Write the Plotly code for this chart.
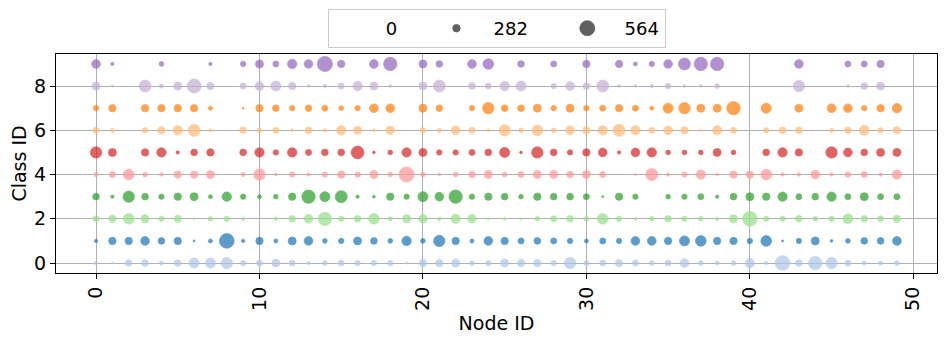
import plotly.graph_objects as go

# node ids on the x axis, class ids on the y axis
NODE_IDS = list(range(50))
CLASS_IDS = list(range(10))

# samples per (class, node); 0 means no marker
CLASS_0 = [125, 75, 250, 250, 150, 250, 375, 375, 425, 200, 225, 300, 225, 125, 175, 225, 200, 200, 200, 75,
           275, 275, 300, 175, 200, 300, 275, 275, 200, 425, 200, 225, 275, 225, 175, 225, 325, 175, 150, 175,
           350, 125, 550, 250, 500, 425, 225, 150, 150, 175]
CLASS_1 = [125, 275, 275, 325, 250, 275, 75, 150, 550, 125, 275, 150, 300, 325, 175, 200, 300, 250, 175, 350,
           175, 425, 275, 150, 325, 275, 225, 250, 225, 200, 150, 225, 200, 325, 325, 275, 375, 400, 275, 275,
           200, 400, 75, 200, 300, 100, 175, 250, 250, 325]
CLASS_2 = [225, 275, 400, 300, 200, 275, 75, 175, 200, 125, 0, 125, 250, 325, 500, 200, 250, 400, 150, 300,
           325, 125, 350, 325, 75, 100, 75, 175, 225, 250, 175, 400, 200, 100, 175, 250, 200, 175, 125, 300,
           550, 200, 200, 250, 175, 200, 375, 250, 225, 275]
CLASS_3 = [250, 125, 425, 250, 200, 275, 300, 150, 350, 200, 150, 175, 275, 500, 375, 450, 125, 100, 275, 200,
           375, 325, 500, 200, 275, 250, 175, 275, 250, 250, 225, 75, 275, 200, 0, 175, 200, 225, 125, 250,
           300, 275, 350, 225, 250, 350, 225, 300, 225, 225]
CLASS_4 = [150, 225, 400, 175, 125, 275, 275, 300, 0, 150, 425, 100, 200, 125, 200, 275, 200, 300, 175, 564,
           175, 100, 175, 250, 300, 175, 225, 300, 300, 250, 300, 225, 0, 75, 450, 125, 200, 350, 100, 275,
           275, 400, 125, 125, 325, 125, 200, 225, 125, 350]
CLASS_5 = [425, 300, 0, 275, 350, 125, 250, 275, 0, 250, 350, 200, 350, 225, 250, 250, 475, 100, 175, 350,
           300, 200, 200, 225, 250, 375, 100, 425, 250, 200, 275, 325, 125, 325, 350, 175, 175, 175, 300, 175,
           0, 250, 350, 275, 0, 425, 325, 250, 300, 300]
CLASS_6 = [225, 150, 0, 200, 275, 350, 450, 100, 0, 250, 175, 225, 100, 250, 125, 350, 300, 100, 325, 0,
           200, 150, 325, 225, 100, 425, 175, 400, 175, 325, 275, 350, 450, 350, 225, 325, 275, 75, 350, 225,
           0, 200, 250, 250, 0, 150, 250, 375, 200, 275]
CLASS_7 = [200, 275, 0, 275, 275, 275, 275, 150, 0, 75, 275, 250, 200, 250, 225, 175, 200, 325, 325, 0,
           300, 250, 0, 200, 425, 250, 250, 300, 200, 300, 200, 225, 275, 225, 150, 375, 425, 300, 300, 500,
           0, 375, 0, 300, 0, 325, 325, 200, 275, 350]
CLASS_8 = [300, 75, 0, 450, 150, 300, 525, 275, 0, 225, 325, 375, 275, 100, 125, 225, 350, 300, 100, 0,
           300, 450, 0, 250, 225, 350, 375, 0, 200, 325, 250, 450, 100, 100, 125, 200, 100, 100, 175, 0,
           0, 0, 0, 425, 0, 0, 100, 250, 300, 0]
CLASS_9 = [325, 125, 0, 0, 175, 0, 0, 125, 0, 200, 300, 225, 350, 325, 564, 275, 0, 325, 500, 0,
           300, 250, 0, 325, 400, 0, 250, 0, 225, 0, 275, 0, 275, 150, 200, 325, 450, 500, 500, 0,
           0, 0, 0, 325, 0, 0, 225, 225, 275, 0]

# size legend entries
LEGEND_VALUES = [0, 282, 564]

X_TICKS = [0, 10, 20, 30, 40, 50]
Y_TICKS = [0, 2, 4, 6, 8]

COUNTS = [CLASS_0, CLASS_1, CLASS_2, CLASS_3, CLASS_4, CLASS_5, CLASS_6, CLASS_7, CLASS_8, CLASS_9]
COLORS = ["#aec7e8", "#1f77b4", "#98df8a", "#2ca02c", "#ff9896",
          "#d62728", "#ffbb78", "#ff7f0e", "#c5b0d5", "#9467bd"]

MAX_PX = 15.0
SIZEREF = max(LEGEND_VALUES) / MAX_PX
FONT = "DejaVu Sans"
NB = "\u00a0"
# the page body keeps its default 8px margin, so the figure is made smaller to fit the window
PAGE_PAD = 8

fig = go.Figure()

for cid, counts, color in zip(CLASS_IDS, COUNTS, COLORS):
    xs = [n for n, c in zip(NODE_IDS, counts) if c > 0]
    ss = [c for c in counts if c > 0]
    fig.add_trace(go.Scatter(
        x=xs, y=[cid] * len(xs), mode="markers",
        marker=dict(size=ss, sizemode="diameter", sizeref=SIZEREF, color=color,
                    opacity=0.72, line=dict(color=color, width=0.8)),
        showlegend=False,
        hovertemplate="Node %{x}<br>Class %{y}<br>Count %{marker.size}<extra></extra>",
    ))

trail = [6, 6, 0]
for v, t in zip(LEGEND_VALUES, trail):
    # pad labels so the entries spread out like the original legend
    label = NB * 3 + str(v) + NB * t
    col = "#444444" if v else "rgba(0,0,0,0)"
    fig.add_trace(go.Scatter(
        x=[None], y=[None], mode="markers", name=label,
        marker=dict(size=max(v / SIZEREF, 1), color=col, opacity=0.85,
                    line=dict(color=col, width=0.8 if v else 0)),
    ))

W, H = 947 - 2 * PAGE_PAD, 342 - 2 * PAGE_PAD
fig.update_layout(
    width=W, height=H,
    margin=dict(l=48, r=2, t=46, b=61),
    paper_bgcolor="white", plot_bgcolor="white",
    font=dict(family=FONT, size=19, color="black"),
    showlegend=True,
    legend=dict(
        orientation="h", x=0.5, xanchor="center",
        yref="container", y=1 - 1 / H, yanchor="top",
        bordercolor="#cccccc", borderwidth=1, bgcolor="white",
        font=dict(size=18), itemsizing="trace",
    ),
)
fig.update_xaxes(
    range=[-2.45, 51.45], tickvals=X_TICKS, tickangle=-90,
    showgrid=True, gridcolor="#b0b0b0", gridwidth=1.2,
    zeroline=False, showline=True, linecolor="black", linewidth=1.2, mirror=True,
    ticks="outside", ticklen=5, tickcolor="black", automargin=False,
    title=dict(text="Node ID", font=dict(size=19), standoff=11),
    tickfont=dict(size=19),
)
fig.update_yaxes(
    range=[-0.45, 9.45], tickvals=Y_TICKS,
    showgrid=True, gridcolor="#b0b0b0", gridwidth=1.2,
    zeroline=False, showline=True, linecolor="black", linewidth=1.2, mirror=True,
    ticks="outside", ticklen=5, tickcolor="black", automargin=False,
    title=dict(text="Class ID", font=dict(size=19), standoff=4),
    tickfont=dict(size=19),
)

fig.write_html("out.html")
